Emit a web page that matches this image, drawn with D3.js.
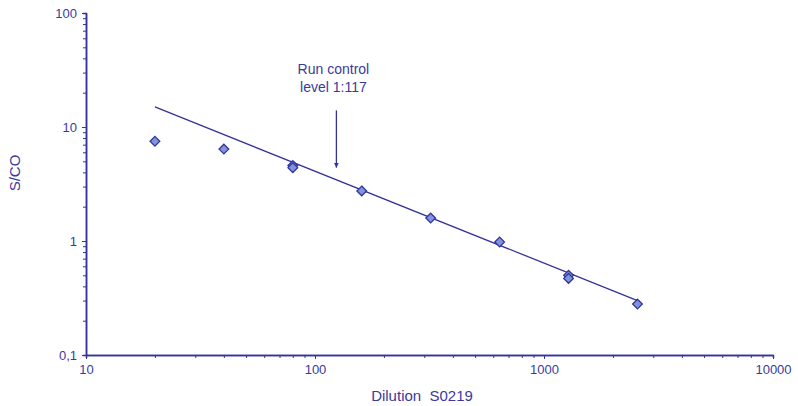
<!DOCTYPE html>
<html>
<head>
<meta charset="utf-8">
<script src="https://cdn.jsdelivr.net/npm/d3@7"></script>
<style>
  body { margin: 0; background: #fff; }
  svg { display: block; font-family: Arial, "Liberation Sans", sans-serif; }
  .axis path, .axis line { stroke: #33339a; }
  .axis text { fill: #3a3a9e; font-size: 13px; }
</style>
</head>
<body>
<svg></svg>
<script>
let svgWidth = 798
let svgHeight = 406

// dilution series (x) and measured S/CO (y)
let dilutions = [20, 40, 80, 80, 160, 320, 640, 1280, 1280, 2560]
let sco = [7.5, 6.4, 4.6, 4.4, 2.75, 1.59, 0.98, 0.50, 0.47, 0.28]

// fitted line end points
let fitX = [20, 2560]
let fitY = [15, 0.30]

// run control arrow
let arrowX = 124
let arrowY = [14, 4.4]
let arrowText = ['Run control', 'level 1:117']

let xTicks = [10, 100, 1000, 10000]
let yTicks = [0.1, 1, 10, 100]

let xTitle = 'Dilution  S0219'
let yTitle = 'S/CO'

let blue = '#33339a'
let textBlue = '#3a3a9e'

let svg = d3.select('svg').attr('width', svgWidth).attr('height', svgHeight)

let xScale = d3.scaleLog().domain([10, 10000]).range([86, 773])
let yScale = d3.scaleLog().domain([0.1, 100]).range([355, 13])

function minorTicks(domain) {
  let out = []
  for (let d = domain[0]; d < domain[1]; d *= 10) {
    for (let k = 2; k <= 9; k++) out.push(d * k)
  }
  return out
}

let locale = d3.formatLocale({ decimal: ',', thousands: '', grouping: [3], currency: ['', ''] })
let yFmt = function(d) { return locale.format('~g')(d) }

// minor ticks first
svg.append('g').attr('class', 'axis')
  .attr('transform', 'translate(0,355)')
  .call(d3.axisBottom(xScale).tickValues(minorTicks([10, 10000])).tickSize(3).tickFormat(''))
svg.append('g').attr('class', 'axis')
  .attr('transform', 'translate(86,0)')
  .call(d3.axisLeft(yScale).tickValues(minorTicks([0.1, 100])).tickSize(3).tickFormat(''))

// major ticks with labels
svg.append('g').attr('class', 'axis')
  .attr('transform', 'translate(0,355)')
  .call(d3.axisBottom(xScale).tickValues(xTicks).tickSizeInner(4).tickSizeOuter(0).tickPadding(6).tickFormat(d3.format('d')))
svg.append('g').attr('class', 'axis')
  .attr('transform', 'translate(86,0)')
  .call(d3.axisLeft(yScale).tickValues(yTicks).tickSizeInner(4).tickSizeOuter(0).tickPadding(5).tickFormat(yFmt))

svg.selectAll('.axis path').attr('stroke-width', 1.5)

// axis titles
svg.append('text')
  .attr('x', 422).attr('y', 401)
  .attr('text-anchor', 'middle')
  .attr('fill', textBlue).attr('font-size', 15)
  .style('white-space', 'pre')
  .text(xTitle)

svg.append('text')
  .attr('transform', 'translate(20,173) rotate(-90)')
  .attr('text-anchor', 'middle')
  .attr('fill', textBlue).attr('font-size', 15)
  .text(yTitle)

// fitted line
svg.append('line')
  .attr('x1', xScale(fitX[0])).attr('y1', yScale(fitY[0]))
  .attr('x2', xScale(fitX[1])).attr('y2', yScale(fitY[1]))
  .attr('stroke', blue).attr('stroke-width', 1.3)

// points
let diamond = d3.symbol().type(d3.symbolDiamond2).size(60)
svg.append('g').selectAll('path')
  .data(dilutions)
  .enter()
  .append('path')
  .attr('d', diamond)
  .attr('transform', function(d, i) { return 'translate(' + xScale(d) + ',' + yScale(sco[i]) + ')' })
  .attr('fill', '#7f95d9')
  .attr('stroke', blue)
  .attr('stroke-width', 1.3)

// arrow
let defs = svg.append('defs')
defs.append('marker')
  .attr('id', 'arrow')
  .attr('viewBox', '0 0 10 10')
  .attr('refX', 10).attr('refY', 5)
  .attr('markerWidth', 5).attr('markerHeight', 5)
  .attr('markerUnits', 'userSpaceOnUse')
  .attr('orient', 'auto')
  .append('path')
  .attr('d', 'M 0 0 L 10 5 L 0 10 z')
  .attr('fill', blue)

svg.append('line')
  .attr('x1', xScale(arrowX)).attr('y1', yScale(arrowY[0]))
  .attr('x2', xScale(arrowX)).attr('y2', yScale(arrowY[1]))
  .attr('stroke', blue).attr('stroke-width', 1.3)
  .attr('marker-end', 'url(#arrow)')

svg.append('g').selectAll('text')
  .data(arrowText)
  .enter()
  .append('text')
  .attr('x', xScale(arrowX) - 3)
  .attr('y', function(d, i) { return 74 + i * 18 })
  .attr('text-anchor', 'middle')
  .attr('fill', textBlue).attr('font-size', 14)
  .text(function(d) { return d })
</script>
</body>
</html>
